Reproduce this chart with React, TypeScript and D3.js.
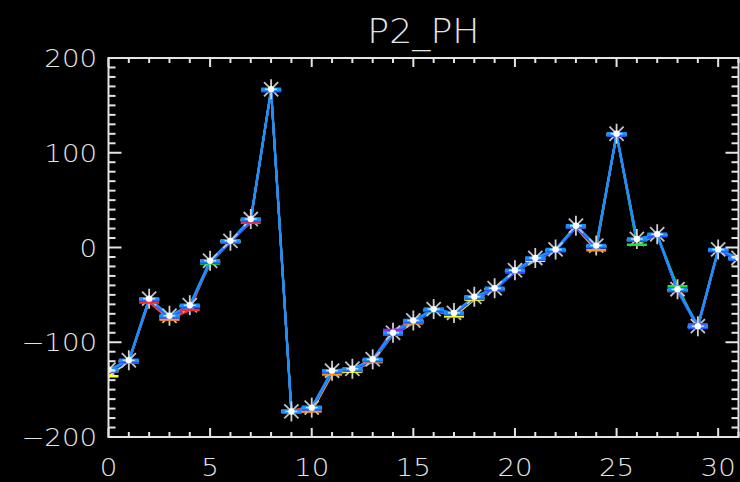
import React from "react";
import * as d3 from "d3";

// Channel index along x
const channels = d3.range(0, 32);

// Phase readings per channel, one array per trace (drawn in this order)
const phPurple = [-130, -120, -55, -73, -62, -14, 6, 29, 166, -172, -170, -131, -129, -118, -87, -77, -66, -70, -53, -44, -25, -12, -3, 22, 1, 119, 8, 13, -45, -81, -3, -12];
const phRed = [-130, -120, -58, -76, -66, -16, 6, 26, 166, -172, -168, -133, -128, -119, -91, -78, -66, -70, -53, -45, -25, -12, -3, 22, 1, 119, 8, 13, -45, -84, -3, -12];
const phOrange = [-131, -121, -55, -76, -62, -15, 6, 29, 166, -174, -173, -134, -130, -121, -92, -80, -66, -73, -54, -44, -26, -12, -3, 21, -3, 119, 7, 13, -46, -84, -3, -12];
const phYellow = [-136, -120, -55, -73, -62, -15, 6, 29, 166, -173, -170, -131, -131, -119, -91, -78, -66, -72, -55, -44, -25, -14, -3, 22, 1, 119, 8, 13, -45, -84, -3, -12];
const phGreen = [-130, -120, -55, -73, -62, -17, 6, 29, 166, -173, -170, -131, -129, -119, -91, -79, -67, -70, -53, -44, -25, -12, -3, 22, 1, 119, 3, 13, -41, -84, -3, -12];
const phDarkBlue = [-131, -121, -56, -74, -63, -16, 5, 28, 165, -174, -171, -132, -130, -120, -92, -79, -67, -71, -54, -45, -26, -13, -4, 21, 0, 118, 7, 12, -46, -85, -4, -13];
const phBlue = [-129, -119, -54, -72, -61, -14, 7, 30, 167, -173, -169, -130, -128, -118, -90, -77, -65, -69, -52, -43, -24, -11, -2, 23, 2, 120, 9, 14, -44, -83, -2, -11];

const traceNames = ["purple", "red", "orange", "yellow", "green", "darkblue", "blue"];
const traceColors = ["#8a2be2", "#ff2a2a", "#ff9a10", "#ffff20", "#20e040", "#2a4cff", "#1a90ff"];
const traceValues = [phPurple, phRed, phOrange, phYellow, phGreen, phDarkBlue, phBlue];

const title = "P2_PH";
const xMajorTicks = [0, 5, 10, 15, 20, 25, 30];
const xMinorTicks = d3.range(0, 32);
const yMajorTicks = [-200, -100, 0, 100, 200];
const yMinorTicks = d3.range(-200, 201, 10);

const W = 740;
const H = 482;
const left = 108.5;
const right = 738.5;
const top = 58;
const bottom = 437;

const fg = "#e4e4e4";
const font = "'DejaVu Sans', 'Liberation Sans', sans-serif";

// Text drawn with a horizontal stretch about its anchor point
function WideText(props: { x: number; y: number; size: number; anchor: string; stretch: number; children: React.ReactNode }) {
  const { x, y, size, anchor, stretch, children } = props;
  return (
    <text
      transform={`translate(${x},${y}) scale(${stretch},1)`}
      fill={fg}
      fontFamily={font}
      fontSize={size}
      textAnchor={anchor}
      fontWeight={300}
    >
      {children}
    </text>
  );
}

export default function App() {
  const x = d3.scaleLinear().domain([0, 31]).range([left, right]);
  const y = d3.scaleLinear().domain([-200, 200]).range([bottom, top]);
  const line = d3
    .line<number>()
    .x((_, i) => x(channels[i]))
    .y((v) => y(v));

  const traces = traceNames.map((name, k) => ({ name, color: traceColors[k], values: traceValues[k] }));
  const topTrace = traces[traces.length - 1];
  const r = 10;
  const d = r * Math.SQRT1_2;

  return (
    <svg
      width={W}
      height={H}
      viewBox={`0 0 ${W} ${H}`}
      style={{ position: "absolute", left: 0, top: 0, background: "#000", display: "block" }}
    >
      <rect x={0} y={0} width={W} height={H} fill="#000" />
      <defs>
        <clipPath id="plotArea">
          <rect x={left} y={top} width={right - left} height={bottom - top} />
        </clipPath>
      </defs>

      {/* title */}
      <WideText x={(left + right) / 2} y={43} size={33} anchor="middle" stretch={1.1}>
        {title}
      </WideText>

      {/* traces */}
      <g clipPath="url(#plotArea)">
        {traces.map((t) => (
          <path
            key={t.name}
            d={line(t.values) ?? ""}
            fill="none"
            stroke={t.color}
            strokeWidth={t.name === "blue" ? 2.4 : 2}
            strokeLinejoin="round"
          />
        ))}

        {/* asterisk markers */}
        {channels.map((c, i) => {
          const cx = x(c);
          const cy = y(topTrace.values[i]);
          return (
            <g key={`m${c}`}>
              <line x1={cx - d} y1={cy - d} x2={cx + d} y2={cy + d} stroke="#c4c4c4" strokeWidth={1.8} />
              <line x1={cx - d} y1={cy + d} x2={cx + d} y2={cy - d} stroke="#c4c4c4" strokeWidth={1.8} />
              <line x1={cx} y1={cy - r} x2={cx} y2={cy + r} stroke="#d0d0d0" strokeWidth={1.8} />
              {traces.map((t) => (
                <line
                  key={t.name}
                  x1={cx - r}
                  x2={cx + r}
                  y1={y(t.values[i])}
                  y2={y(t.values[i])}
                  stroke={t.color}
                  strokeWidth={t.name === "blue" ? 3.5 : 2.5}
                />
              ))}
              <line x1={cx - 6} x2={cx + 6} y1={cy} y2={cy} stroke="#a8e0ff" strokeWidth={1.5} />
              <circle cx={cx} cy={cy} r={3.2} fill="#ffffff" />
            </g>
          );
        })}
      </g>

      {/* frame */}
      <rect x={left} y={top} width={right - left} height={bottom - top} fill="none" stroke={fg} strokeWidth={2} />

      {/* x ticks, bottom and top */}
      {xMinorTicks.map((v) => {
        const major = xMajorTicks.includes(v);
        const len = major ? 9 : 5;
        return (
          <g key={`xt${v}`} stroke={fg} strokeWidth={2}>
            <line x1={x(v)} x2={x(v)} y1={bottom} y2={bottom - len} />
            <line x1={x(v)} x2={x(v)} y1={top} y2={top + len} />
          </g>
        );
      })}
      {xMajorTicks.map((v) => (
        <WideText key={`xl${v}`} x={x(v)} y={476} size={24} anchor="middle" stretch={1.15}>
          {v}
        </WideText>
      ))}

      {/* y ticks, left and right */}
      {yMinorTicks.map((v) => {
        const major = yMajorTicks.includes(v);
        const len = major ? 13 : 7;
        return (
          <g key={`yt${v}`} stroke={fg} strokeWidth={2}>
            <line x1={left} x2={left + len} y1={y(v)} y2={y(v)} />
            <line x1={right} x2={right - len} y1={y(v)} y2={y(v)} />
          </g>
        );
      })}
      {yMajorTicks.map((v) => (
        <WideText key={`yl${v}`} x={97} y={y(v) + 9} size={24} anchor="end" stretch={1.15}>
          {v < 0 ? `\u2212${Math.abs(v)}` : v}
        </WideText>
      ))}
    </svg>
  );
}
